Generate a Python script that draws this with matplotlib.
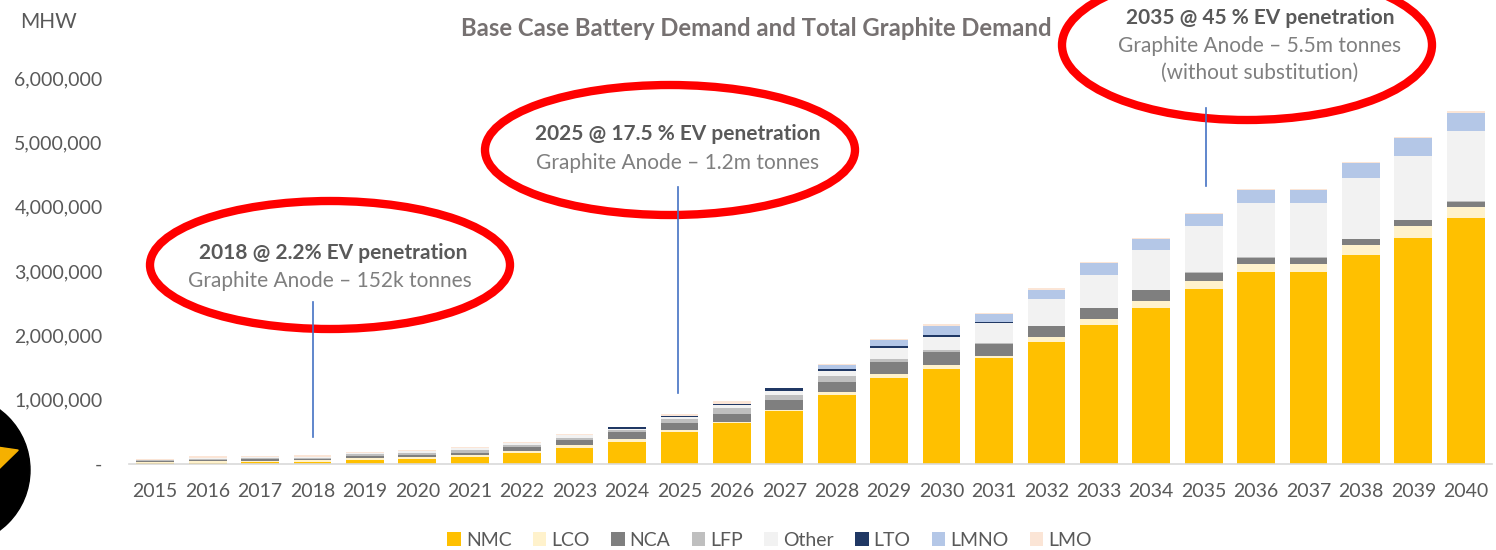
import numpy as np
import matplotlib
matplotlib.use("Agg")
from matplotlib import pyplot as plt
from matplotlib.patches import Ellipse, Circle
from matplotlib.ticker import FuncFormatter

plt.rcParams['font.family'] = ['Lato', 'DejaVu Sans']

years = [str(y) for y in range(2015, 2041)]

# battery demand by chemistry, MWh
nmc = [10, 15, 25, 30, 65, 80, 110, 165, 245, 340, 490, 630, 820, 1070, 1340, 1480, 1640,
       1900, 2160, 2430, 2720, 2990, 2990, 3250, 3520, 3820]
lco = [15, 25, 20, 25, 25, 30, 30, 35, 45, 50, 40, 30, 20, 50, 60, 60, 40,
       80, 90, 110, 120, 120, 120, 160, 180, 170]
nca = [20, 25, 25, 25, 40, 35, 35, 65, 80, 100, 100, 120, 155, 160, 180, 200, 190,
       160, 170, 160, 130, 90, 90, 80, 90, 90]
lfp = [10, 20, 20, 20, 20, 30, 40, 35, 40, 40, 70, 90, 75, 90, 50, 30, 10,
       10, 10, 10, 10, 10, 10, 10, 10, 10]
other = [10, 15, 15, 15, 20, 25, 30, 25, 40, 20, 35, 50, 60, 80, 180, 210, 310,
         420, 510, 610, 720, 840, 840, 940, 990, 1090]
lto = [0, 0, 0, 0, 0, 0, 0, 0, 0, 25, 5, 5, 50, 20, 20, 20, 10,
       0, 0, 0, 0, 0, 0, 0, 0, 0]
lmno = [0, 0, 0, 0, 0, 0, 0, 0, 0, 0, 0, 0, 0, 70, 100, 150, 130,
        140, 180, 170, 180, 210, 210, 240, 280, 280]
lmo = [15, 25, 25, 30, 15, 15, 25, 15, 20, 5, 40, 55, 0, 20, 20, 20, 20,
       20, 20, 20, 20, 20, 20, 20, 20, 30]

series = [("NMC", nmc, "#FFC000"), ("LCO", lco, "#FFF2CC"), ("NCA", nca, "#7F7F7F"),
          ("LFP", lfp, "#BFBFBF"), ("Other", other, "#F2F2F2"), ("LTO", lto, "#203864"),
          ("LMNO", lmno, "#B4C7E7"), ("LMO", lmo, "#FBE5D6")]

grey = "#595959"

fig = plt.figure(figsize=(14.96, 5.5), dpi=100)
ax = fig.add_axes([129 / 1496, 86 / 550, 1363 / 1496, 386 / 550])

x = np.arange(len(years))
bottom = np.zeros(len(years))
for name, vals, col in series:
    v = np.array(vals) * 1000.0
    ax.bar(x, v, 0.72, bottom=bottom, color=col, label=name, zorder=2)
    bottom += v

ax.set_xlim(-0.5, len(years) - 0.5)
ax.set_ylim(0, 6000000)
ax.set_yticks(np.arange(0, 6000001, 1000000))
ax.yaxis.set_major_formatter(FuncFormatter(lambda v, p: "-" if v == 0 else f"{int(v):,}"))
ax.set_xticks(x)
ax.set_xticklabels(years)
ax.tick_params(axis='both', length=0, labelsize=14, colors=grey)
ax.tick_params(axis='y', pad=19)
ax.tick_params(axis='x', pad=14)
for s in ['top', 'right', 'left']:
    ax.spines[s].set_visible(False)
ax.spines['bottom'].set_color("#D9D9D9")
ax.spines['bottom'].set_linewidth(1.2)

ax.legend(loc='upper center', bbox_to_anchor=(0.47, -0.13), ncol=8, frameon=False,
          fontsize=14, handlelength=0.7, handleheight=0.7, handletextpad=0.25,
          columnspacing=1.1, labelcolor=grey)

# overlay in pixel coordinates for annotations
ov = fig.add_axes([0, 0, 1, 1], zorder=5)
ov.set_xlim(0, 1496)
ov.set_ylim(550, 0)
ov.axis('off')

ov.text(20, 22, "MHW", fontsize=15, color=grey, va='center')
ov.text(756, 28, "Base Case Battery Demand and Total Graphite Demand", fontsize=17.2,
        fontweight='bold', color="#767171", ha='center', va='center')

# logo fragment bottom left
ov.add_patch(Circle((-45, 470), 75, color="black", zorder=1))
ov.plot([-45], [470], marker=(5, 1, 0), markersize=95, color="#F5B000", zorder=2)

ann_red = "#FF0000"
ann_blue = "#4472C4"
ov.add_patch(Ellipse((330, 265), 360, 128, fill=False, ec=ann_red, lw=6))
ov.text(333, 253, "2018 @ 2.2% EV penetration", fontsize=15, fontweight='bold', color=grey,
        ha='center', va='center')
ov.text(330, 281, "Graphite Anode \u2013 152k tonnes", fontsize=15, color="#7F7F7F",
        ha='center', va='center')
ov.plot([313, 313], [302, 437], color=ann_blue, lw=1.2)

ov.add_patch(Ellipse((670, 150), 370, 130, fill=False, ec=ann_red, lw=6))
ov.text(678, 134, "2025 @ 17.5 % EV penetration", fontsize=15, fontweight='bold', color=grey,
        ha='center', va='center')
ov.text(678, 163, "Graphite Anode \u2013 1.2m tonnes", fontsize=15, color="#7F7F7F",
        ha='center', va='center')
ov.plot([678, 678], [187, 393], color=ann_blue, lw=1.2)

ov.add_patch(Ellipse((1247, 45), 370, 150, fill=False, ec=ann_red, lw=6))
ov.text(1260, 18, "2035 @ 45 % EV penetration", fontsize=15, fontweight='bold', color=grey,
        ha='center', va='center')
ov.text(1260, 46, "Graphite Anode \u2013 5.5m tonnes", fontsize=15, color="#7F7F7F",
        ha='center', va='center')
ov.text(1260, 73, "(without substitution)", fontsize=15, color="#7F7F7F",
        ha='center', va='center')
ov.plot([1206, 1206], [108, 186], color=ann_blue, lw=1.2)

fig.savefig("out.png", dpi=100)
